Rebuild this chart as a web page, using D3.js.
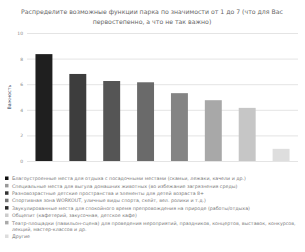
<!DOCTYPE html>
<html><head><meta charset="utf-8">
<script src="https://cdn.jsdelivr.net/npm/d3@7"></script>
<style>body{margin:0;background:#fff;}svg{display:block;font-family:"DejaVu Sans",sans-serif;}</style>
</head><body><svg id="c" width="305" height="252"></svg>
<script>
const titleLines = ["Распределите возможные функции парка по значимости от 1 до 7 (что для Вас", "первостепенно, а что не так важно)"];
const categories = [
  "Благоустроенные места для отдыха с посадочными местами (скамьи, лежаки, качели и др.)",
  "Специальные места для выгула домашних животных (во избежание загрязнения среды)",
  "Разновозрастные детские пространства и элементы для детей возраста 8+",
  "Спортивная зона WORKOUT, уличные виды спорта, скейт, вел. ролики и т.д.)",
  "Заукулированные места для спокойного время препровождения на природе (работы/отдыха)",
  "Общепит (кафетерий, закусочная, детское кафе)",
  "Театр-площадки (павильон-сцена) для проведения мероприятий, праздников, концертов, выставок, конкурсов,|лекций, мастер-классов и др.",
  "Другие"
];
const values = [8.35, 6.8, 6.25, 6.15, 5.3, 4.75, 4.15, 0.95];
const barColors = ["#1f1f1f","#3d3d3d","#555555","#6a6a6a","#848484","#a8a8a8","#c6c6c6","#dedede"];
const legendColors = ["#111111","#999999","#333333","#777777","#2a2a2a","#cccccc","#aaaaaa","#dddddd"];
const yTicks = [0, 2, 4, 6, 8, 10];
const yLabel = "Важность";

const svg = d3.select("#c");
const x = d3.scaleBand().domain(d3.range(values.length)).range([27, 298]).paddingInner(0.5).paddingOuter(0.25);
const y = d3.scaleLinear().domain([0, 10]).range([161, 33]);

svg.append("g").selectAll("text").data(titleLines).join("text")
  .attr("x", 152).attr("y", (d, i) => 13.5 + i * 10)
  .attr("text-anchor", "middle").attr("font-size", 6.2).attr("fill", "#666").text(d => d);

const yAxis = d3.axisLeft(y).tickValues(yTicks).tickSize(-(298 - 27)).tickPadding(4);
const ga = svg.append("g").attr("transform", "translate(27,0)").call(yAxis);
ga.select(".domain").remove();
ga.selectAll(".tick line").attr("stroke", "#e4e4e4").attr("stroke-width", 1);
ga.selectAll(".tick text").attr("font-size", 4.5).attr("fill", "#888").attr("font-family", "DejaVu Sans");

svg.append("text").attr("transform", "translate(11,97) rotate(-90)")
  .attr("text-anchor", "middle").attr("font-size", 4.8).attr("fill", "#3b4a66").text(yLabel);

svg.append("g").selectAll("rect").data(values).join("rect")
  .attr("x", (d, i) => x(i)).attr("width", x.bandwidth())
  .attr("y", d => y(d)).attr("height", d => y(0) - y(d))
  .attr("fill", (d, i) => barColors[i]);

// legend
const lg = svg.append("g");
let ly = 178.5;
categories.forEach((c, i) => {
  const parts = c.split("|");
  lg.append("rect").attr("x", 5).attr("y", ly - 2).attr("width", 3.5).attr("height", 3.5).attr("fill", legendColors[i]);
  parts.forEach((p, j) => {
    lg.append("text").attr("x", 12).attr("y", ly + 1.6 + j * 6.2)
      .attr("font-size", 4.75).attr("fill", "#777").text(p);
  });
  ly += 7.4 + (parts.length - 1) * 6.2;
});
</script></body></html>
